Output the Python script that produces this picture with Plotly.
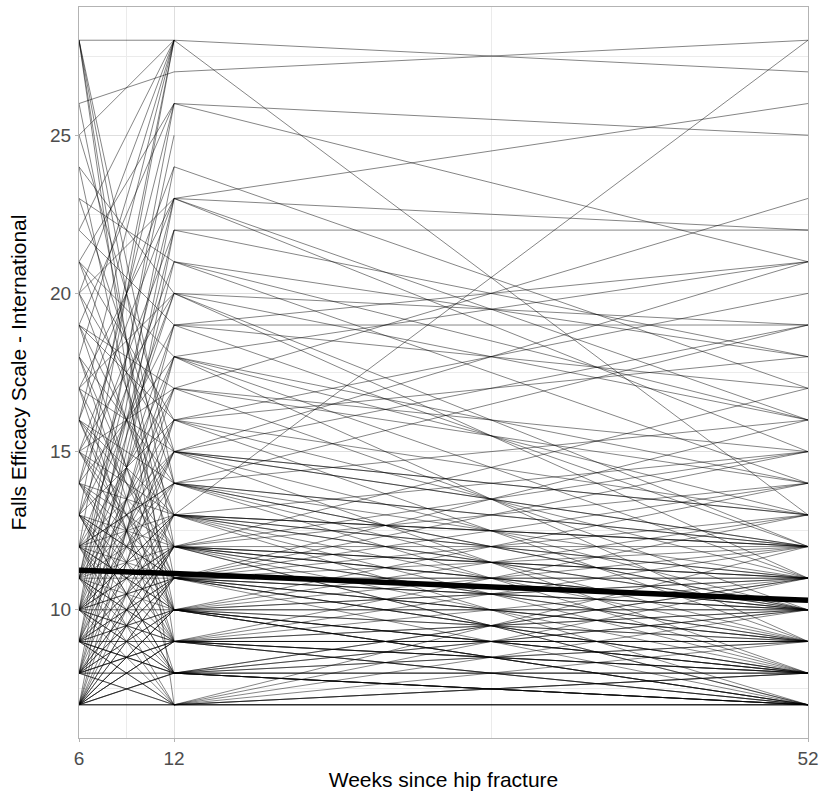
import plotly.graph_objects as go

weeks = [6, 12, 52]
week_ticks = [6, 12, 52]
fes_ticks = [10, 15, 20, 25]

# Individual trajectories (None = missing assessment)
fes_w6 = [28, 28, 28, 28, 28, 26, 26, 25, 25, 24,
          22, 21, 21, 20, 20, 19, 19, 18, 18, 17,
          17, 16, 16, 16, 16, 15, 15, 15, 15, 14,
          14, 14, 14, 14, 13, 13, 13, 13, 13, 13,
          12, 12, 12, 12, 12, 12, 12, 12, 11, 11,
          11, 11, 11, 11, 11, 11, 11, 11, 10, 10,
          10, 10, 10, 10, 10, 10, 10, 10, 10, 9,
          9, 9, 9, 9, 9, 9, 9, 9, 9, 9,
          9, 8, 8, 8, 8, 8, 8, 8, 8, 8,
          8, 8, 8, 7, 7, 7, 7, 7, 7, 7,
          7, 7, 7, 7, 7, 7, 7, 7, 7, 7,
          8, 9, 10, 11, 12, 13, 14, 15, 16, 17,
          18, 19, 20, 21, 22, 23, 23, 24, 19, 17,
          10, 9, 11, 8, 12, 13, 10, 9, 11, 14,
          15, 7, 8, 12, 16, 7, 9, 13, 10, 12,
          9, 10, 8, 11, 12, 7, 13, 10, 9, 8,
          14, 11, 7, 12, 9, 10, 15, 13, 8, 16,
          17, 18, 20, 21, 19]
fes_w12 = [28, 12, 9, 14, 7, 27, 11, 28, 15, 10,
           28, 26, 13, 28, 23, 26, 16, 28, 11, 23,
           20, 28, 24, 14, 9, 23, 20, 12, 17, 22,
           26, 18, 10, 13, 28, 21, 19, 16, 8, 11,
           28, 20, 15, 14, 10, 7, 13, 17, 25, 23,
           18, 16, 12, 9, 7, 14, 11, 20, 26, 22,
           17, 15, 13, 11, 10, 8, 7, 19, 12, 24,
           21, 18, 15, 13, 11, 9, 8, 7, 10, 16,
           12, 23, 19, 15, 12, 10, 9, 8, 7, 11,
           13, 17, 9, 22, 18, 14, 12, 10, 9, 8,
           7, 7, 11, 13, 16, 8, 9, 7, 10, 12,
           7, 8, 9, 10, 11, 12, 11, 13, 12, 15,
           14, 17, 12, 16, 19, 14, 21, 20, 10, 8,
           8, 10, 8, 10, 9, 10, 12, 7, 13, 9,
           11, 8, 8, 8, 10, 10, 9, 9, 14, 12,
           11, 9, 12, 9, 10, 11, 11, 13, 12, 9,
           12, 15, 9, 14, 8, 11, 10, 8, 11, 13,
           11, 9, 15, 18, 13]
fes_w52 = [27, 7, None, 9, 11, 28, 15, None, 10, 13,
           13, 21, 8, None, 16, 25, 11, None, 14, 22,
           12, None, 17, 19, 12, 26, 16, 17, 10, 22,
           None, 13, 7, 28, None, 14, 19, 9, 11, 16,
           None, 11, 21, 8, 12, 10, 7, 23, None, 15,
           9, 20, 9, 13, 8, 11, 7, None, None, 18,
           14, 8, 10, 9, 14, 7, 9, 17, 15, None,
           16, 11, 12, 11, 13, 7, 10, 7, 8, None,
           8, None, 12, 19, 10, 7, 11, 9, 8, 10,
           9, None, 8, None, 21, 12, 7, 8, 10, 7,
           7, 12, 9, 15, 18, 11, 7, 8, 11, None,
           7, 8, 9, 10, 8, 14, 12, 10, 11, 13,
           16, 15, 12, 13, 21, 10, 18, 19, 7, 8,
           10, 9, 7, 11, 9, 7, 11, 7, 12, 8,
           11, 9, 8, 7, 10, 9, 9, None, 12, 10,
           10, 7, 11, 8, 8, 8, 9, 12, 10, 9,
           9, 13, 10, 10, 7, 11, 8, 7, 8, 11,
           10, 8, 12, 14, 12]

# Mean trajectory
fes_mean = [11.25, 11.15, 10.3]

fig = go.Figure()
for a, b, c in zip(fes_w6, fes_w12, fes_w52):
    fig.add_trace(go.Scatter(
        x=weeks, y=[a, b, c], mode="lines",
        line=dict(color="rgba(0,0,0,0.48)", width=1),
        connectgaps=False, showlegend=False, hoverinfo="skip"))

fig.add_trace(go.Scatter(
    x=weeks, y=fes_mean, mode="lines",
    line=dict(color="black", width=5.5), showlegend=False))

axis_common = dict(
    showline=True, mirror=True, linecolor="#b3b3b3", linewidth=1,
    ticks="outside", ticklen=3, tickcolor="#b3b3b3",
    gridcolor="#dedede", gridwidth=1, zeroline=False, automargin=False,
    tickfont=dict(family="Liberation Sans, Arial, sans-serif", size=19, color="#4d4d4d"),
)

fig.update_layout(
    width=820, height=797,
    margin=dict(l=79, r=12, t=7, b=59),
    paper_bgcolor="white", plot_bgcolor="white",
    font=dict(family="Liberation Sans, Arial, sans-serif"),
    xaxis=dict(
        range=[6, 52], tickmode="array", tickvals=week_ticks,
        title=dict(text="Weeks since hip fracture",
                   font=dict(size=21, color="black"), standoff=4),
        minor=dict(tickmode="array", tickvals=[9, 32], showgrid=True,
                   gridcolor="#ebebeb", gridwidth=0.7, ticks=""),
        **axis_common),
    yaxis=dict(
        range=[5.95, 29.05], tickmode="array", tickvals=fes_ticks,
        title=dict(text="Falls Efficacy Scale - International",
                   font=dict(size=21, color="black"), standoff=17),
        minor=dict(tickmode="array", tickvals=[7.5, 12.5, 17.5, 22.5, 27.5],
                   showgrid=True, gridcolor="#ebebeb", gridwidth=0.7, ticks=""),
        **axis_common),
)

fig.write_html("out.html", config={"displayModeBar": False},
               post_script="document.body.style.margin='0';")
